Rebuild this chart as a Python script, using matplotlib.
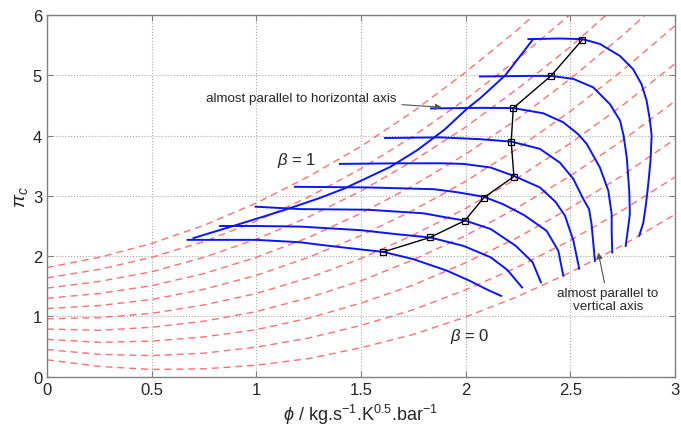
import matplotlib
matplotlib.use("Agg")
import matplotlib.pyplot as plt
import numpy as np

plt.rcParams['font.family'] = ['Liberation Sans', 'DejaVu Sans']
plt.rcParams['mathtext.fontset'] = 'custom'
plt.rcParams['mathtext.rm'] = 'Liberation Sans'
plt.rcParams['mathtext.it'] = 'Liberation Sans:italic'

# ---- beta lines (red dashed), values read at fixed phi positions ----
beta_x = [0, 0.25, 0.5, 0.75, 1.0, 1.25, 1.5, 1.75, 2.0, 2.25, 2.5, 2.75, 3.0]
beta_lines = [
    [0.28, 0.17, 0.12, 0.13, 0.19, 0.30, 0.48, 0.70, 0.99, 1.33, 1.73, 2.18, 2.69],
    [0.45, 0.37, 0.35, 0.39, 0.49, 0.64, 0.85, 1.11, 1.44, 1.82, 2.26, 2.76, 3.31],
    [0.62, 0.57, 0.59, 0.66, 0.78, 0.97, 1.22, 1.52, 1.89, 2.31, 2.80, 3.34, 3.94],
    [0.79, 0.77, 0.82, 0.92, 1.08, 1.31, 1.59, 1.94, 2.34, 2.81, 3.33, 3.92, 4.57],
    [0.96, 0.98, 1.05, 1.19, 1.38, 1.64, 1.96, 2.35, 2.79, 3.30, 3.87, 4.50, 5.19],
    [1.13, 1.18, 1.28, 1.45, 1.68, 1.98, 2.34, 2.76, 3.24, 3.79, 4.40, 5.08, 5.82],
    [1.30, 1.38, 1.51, 1.71, 1.98, 2.31, 2.71, 3.17, 3.69, 4.28, 4.94, 5.66, 6.44],
    [1.47, 1.58, 1.74, 1.98, 2.28, 2.65, 3.08, 3.58, 4.14, 4.78, 5.47, 6.24, 7.07],
    [1.64, 1.78, 1.98, 2.24, 2.58, 2.98, 3.45, 3.99, 4.60, 5.27, 6.01, 6.82, 7.69],
    [1.81, 1.98, 2.21, 2.51, 2.88, 3.32, 3.82, 4.40, 5.05, 5.76, 6.54, 7.40, 8.32],
]

# ---- speed lines (blue) ----
speed_lines = [
    ([0.672, 1.0, 1.21, 1.30, 1.45, 1.607, 1.75, 1.91, 2.02, 2.10, 2.17],
     [2.27, 2.27, 2.23, 2.19, 2.13, 2.07, 1.95, 1.76, 1.59, 1.45, 1.34]),
    ([0.827, 1.0, 1.21, 1.50, 1.68, 1.83, 1.99, 2.12, 2.20, 2.27],
     [2.50, 2.50, 2.49, 2.43, 2.36, 2.31, 2.17, 1.98, 1.77, 1.48]),
    ([0.997, 1.21, 1.53, 1.80, 1.91, 1.997, 2.12, 2.24, 2.32, 2.36],
     [2.82, 2.78, 2.77, 2.71, 2.64, 2.59, 2.45, 2.17, 1.90, 1.565]),
    ([1.185, 1.53, 1.85, 1.96, 2.087, 2.18, 2.28, 2.387, 2.443, 2.467],
     [3.15, 3.14, 3.11, 3.06, 2.985, 2.86, 2.68, 2.42, 2.09, 1.675]),
    ([1.40, 1.69, 1.88, 1.99, 2.12, 2.231, 2.355, 2.43, 2.475, 2.515, 2.543],
     [3.53, 3.54, 3.54, 3.53, 3.47, 3.33, 3.14, 2.90, 2.67, 2.26, 1.79]),
    ([1.615, 1.88, 2.069, 2.218, 2.355, 2.451, 2.515, 2.562, 2.59, 2.602, 2.618],
     [3.96, 3.97, 3.94, 3.90, 3.78, 3.55, 3.28, 2.95, 2.78, 2.53, 1.92]),
    ([1.835, 2.069, 2.228, 2.371, 2.467, 2.539, 2.579, 2.642, 2.682, 2.698, 2.698, 2.701],
     [4.45, 4.46, 4.456, 4.37, 4.22, 4.02, 3.86, 3.47, 3.085, 2.70, 2.42, 2.06]),
    ([2.069, 2.308, 2.408, 2.515, 2.61, 2.69, 2.738, 2.755, 2.77, 2.782, 2.785, 2.777, 2.765],
     [4.98, 4.99, 4.99, 4.94, 4.80, 4.52, 4.25, 4.00, 3.64, 3.085, 2.70, 2.48, 2.17]),
    ([2.30, 2.45, 2.558, 2.642, 2.738, 2.801, 2.841, 2.865, 2.881, 2.889, 2.884, 2.873, 2.862, 2.849, 2.83],
     [5.60, 5.61, 5.60, 5.52, 5.32, 5.10, 4.85, 4.58, 4.25, 4.00, 3.60, 3.20, 2.86, 2.55, 2.34]),
]

# ---- surge line (blue) ----
surge_x = [0.70, 0.89, 1.13, 1.30, 1.42, 1.64, 1.77, 1.90, 2.005, 2.07, 2.19, 2.323]
surge_y = [2.30, 2.50, 2.76, 2.96, 3.12, 3.48, 3.76, 4.10, 4.44, 4.62, 5.00, 5.60]

# ---- operating points (black squares) ----
op_x = [1.607, 1.83, 1.997, 2.087, 2.231, 2.218, 2.228, 2.408, 2.558]
op_y = [2.07, 2.31, 2.59, 2.97, 3.32, 3.90, 4.456, 4.99, 5.59]

x_ticks = [0, 0.5, 1, 1.5, 2, 2.5, 3]
x_ticklabels = ['0', '0.5', '1', '1.5', '2', '2.5', '3']
y_ticks = [0, 1, 2, 3, 4, 5, 6]

fig = plt.figure(figsize=(6.81, 4.27), dpi=100)
ax = fig.add_axes([0.069, 0.1155, 0.922, 0.847])

for yl in beta_lines:
    ax.plot(beta_x, yl, color='#ff6f6f', lw=1.0, ls=(0, (5, 3.5)), zorder=2)

for sx, sy in speed_lines:
    ax.plot(sx, sy, color='#0a14ff', lw=1.4, zorder=3)
ax.plot(surge_x, surge_y, color='#0a14ff', lw=1.4, zorder=3)

ax.plot(op_x, op_y, color='black', lw=1.0, marker='s', ms=4.5,
        mfc='none', mec='black', mew=0.9, zorder=4)

ax.set_xlim(0, 3)
ax.set_ylim(0, 6)
ax.set_xticks(x_ticks)
ax.set_xticklabels(x_ticklabels)
ax.set_yticks(y_ticks)
ax.grid(True, ls=':', color='#a8a8a8', lw=0.8)
ax.set_axisbelow(True)
ax.tick_params(direction='in', top=True, right=True, length=4,
               labelsize=12, colors='#808080', labelcolor='#262626')
for s in ax.spines.values():
    s.set_color('#808080')
    s.set_linewidth(1.0)

ax.set_xlabel(r'$\phi$ / kg.s$^{-1}$.K$^{0.5}$.bar$^{-1}$', fontsize=13,
              color='#262626', labelpad=4)
ax.set_ylabel(r'$\pi_c$', fontsize=14, color='#262626', labelpad=2)

ax.text(1.193, 3.61, r'$\beta$ = 1', fontsize=12, ha='center', va='center', color='#262626')
ax.text(2.021, 0.68, r'$\beta$ = 0', fontsize=12, ha='center', va='center', color='#262626')

ax.annotate('almost parallel to horizontal axis', xy=(1.886, 4.47), xytext=(1.215, 4.62),
            fontsize=9.6, ha='center', va='center', color='#262626',
            arrowprops=dict(arrowstyle='-|>', color='#555555', lw=0.8,
                            mutation_scale=9, shrinkA=2, shrinkB=0))
ax.annotate('almost parallel to\nvertical axis', xy=(2.634, 2.06), xytext=(2.68, 1.28),
            fontsize=9.6, ha='center', va='center', color='#262626', linespacing=1.1,
            arrowprops=dict(arrowstyle='-|>', color='#555555', lw=0.8,
                            mutation_scale=9, shrinkA=1, shrinkB=0))

fig.savefig('out.png', dpi=100)
